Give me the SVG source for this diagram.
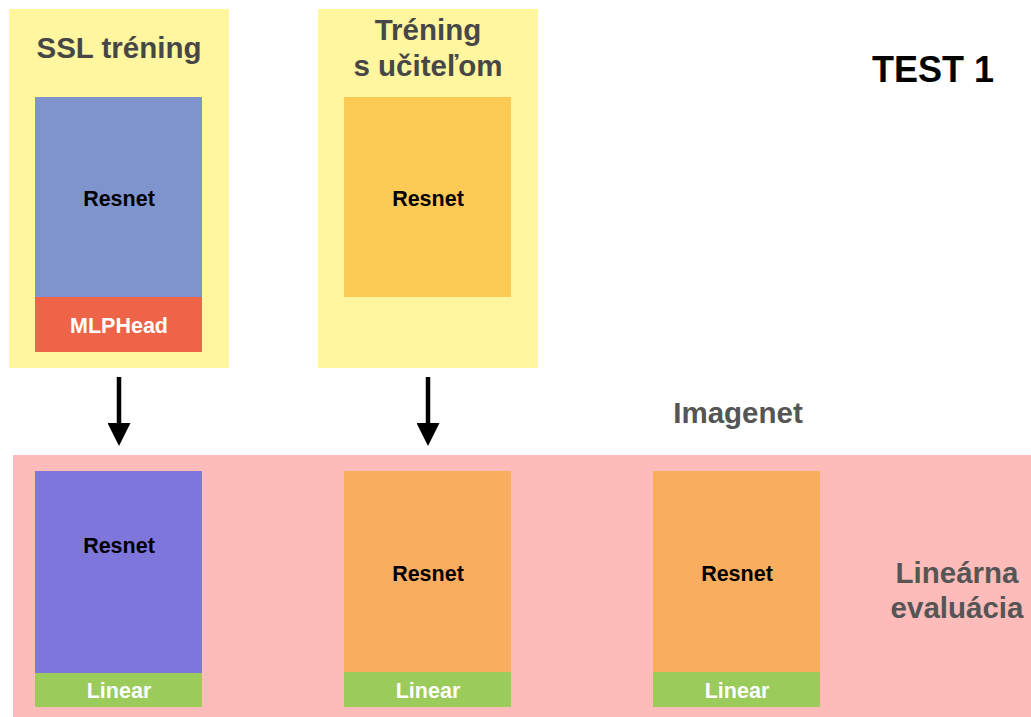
<svg xmlns="http://www.w3.org/2000/svg" width="1031" height="717" viewBox="0 0 1031 717">
<style>
.t{font-family:"Liberation Sans",Arial,sans-serif;font-weight:bold;text-anchor:middle}
.hd{font-size:29.5px;fill:#474747}
.lb{font-size:21.5px;fill:#000}
.lw{font-size:21.5px;fill:#fff}
.side{font-size:29.5px;fill:#555}
</style>
<defs>
<marker id="ah" markerWidth="23" markerHeight="23" refX="2" refY="11.5" orient="auto" markerUnits="userSpaceOnUse" viewBox="0 0 23 23">
<path d="M0,0 L23,11.5 L0,23 z" fill="#000"/>
</marker>
</defs>
<rect width="1031" height="717" fill="#fff"/>
<g id="ssl">
<rect x="9" y="9" width="220" height="359" fill="#FFF69F"/>
<text class="t hd" x="119" y="58">SSL tréning</text>
</g>
<g id="ssl-resnet">
<rect x="35" y="97" width="167" height="200" fill="#7F93CC"/>
<text class="t lb" x="119" y="206">Resnet</text>
</g>
<g id="mlphead">
<rect x="35" y="297" width="167" height="55" fill="#EE6449"/>
<text class="t lw" x="119" y="333">MLPHead</text>
</g>
<g id="teacher">
<rect x="318" y="9" width="220" height="359" fill="#FFF69F"/>
<text class="t hd" x="428" y="40">Tréning</text>
<text class="t hd" x="428" y="76">s učiteľom</text>
</g>
<g id="teacher-resnet">
<rect x="344" y="97" width="167" height="200" fill="#FDCB55"/>
<text class="t lb" x="428" y="206">Resnet</text>
</g>
<g id="test1"><text class="t" x="933" y="82" font-size="36" fill="#000">TEST 1</text></g>
<g id="imagenet"><text class="t side" x="738" y="423">Imagenet</text></g>
<g id="eval">
<rect x="13" y="455" width="1018" height="262" fill="#FDBCBA"/>
<text class="t side" x="957" y="583">Lineárna</text>
<text class="t side" x="957" y="618">evaluácia</text>
</g>
<g id="eval1">
<rect x="35" y="471" width="167" height="202" fill="#7E76DB"/>
<text class="t lb" x="119" y="553">Resnet</text>
<rect x="35" y="673" width="167" height="34" fill="#9BCB5A"/>
<text class="t lw" x="119" y="698">Linear</text>
</g>
<g id="eval2">
<rect x="344" y="471" width="167" height="201" fill="#F9AD5E"/>
<text class="t lb" x="428" y="581">Resnet</text>
<rect x="344" y="672" width="167" height="35" fill="#9BCB5A"/>
<text class="t lw" x="428" y="698">Linear</text>
</g>
<g id="eval3">
<rect x="653" y="471" width="167" height="201" fill="#F9AD5E"/>
<text class="t lb" x="737" y="581">Resnet</text>
<rect x="653" y="672" width="167" height="35" fill="#9BCB5A"/>
<text class="t lw" x="737" y="698">Linear</text>
</g>
<g id="connectors" stroke="#000" stroke-width="4.5">
<line x1="119" y1="377" x2="119" y2="425" marker-end="url(#ah)"/>
<line x1="428" y1="377" x2="428" y2="425" marker-end="url(#ah)"/>
</g>
</svg>
